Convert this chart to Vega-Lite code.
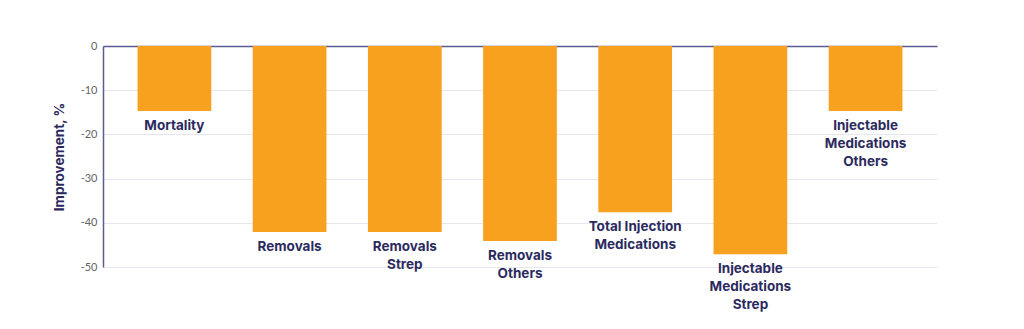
{
  "$schema": "https://vega.github.io/schema/vega-lite/v6.json",
  "width": 834,
  "height": 221,
  "autosize": {"type": "none"},
  "padding": {"left": 103, "top": 46, "right": 87, "bottom": 62},
  "background": "white",
  "config": {"view": {"stroke": null}, "font": "Inter"},
  "data": {"values": [
    {"category": "Mortality", "value": -14.7, "label": "Mortality"},
    {"category": "Removals", "value": -42.1, "label": "Removals"},
    {"category": "Removals Strep", "value": -42.1, "label": "Removals|Strep"},
    {"category": "Removals Others", "value": -44.1, "label": "Removals|Others"},
    {"category": "Total Injection Medications", "value": -37.6, "label": "Total Injection|Medications"},
    {"category": "Injectable Medications Strep", "value": -47.1, "label": "Injectable|Medications|Strep"},
    {"category": "Injectable Medications Others", "value": -14.7, "label": "Injectable|Medications|Others"}
  ]},
  "encoding": {
    "x": {
      "field": "category", "type": "nominal", "sort": null,
      "scale": {"paddingInner": 0.36, "paddingOuter": 0.3},
      "axis": {"orient": "top", "title": null, "labels": false, "ticks": false, "domainColor": "#5c5a8e", "domainWidth": 1.5, "grid": false}
    },
    "y": {
      "field": "value", "type": "quantitative",
      "scale": {"domain": [-50, 0], "nice": false, "zero": true},
      "axis": {
        "title": "Improvement, %", "values": [0, -10, -20, -30, -40, -50],
        "labelExpr": "toString(datum.value)",
        "titleFontSize": 13.5, "titleFontWeight": "bold", "titleColor": "#2b2a5e", "titlePadding": 14,
        "labelFontSize": 11, "labelColor": "#666666", "labelPadding": 6, "labelFont": "Lato",
        "ticks": false, "domainColor": "#5c5a8e", "domainWidth": 1.5,
        "grid": true, "gridColor": "#e6e6ef", "gridWidth": 1
      }
    }
  },
  "layer": [
    {"mark": {"type": "bar", "color": "#f8a11f"}},
    {
      "mark": {"type": "text", "baseline": "top", "align": "center", "dy": 8, "fontSize": 13.5, "fontWeight": "bold", "color": "#2b2a5e", "lineBreak": "|", "lineHeight": 18},
      "encoding": {"text": {"field": "label"}}
    }
  ]
}
